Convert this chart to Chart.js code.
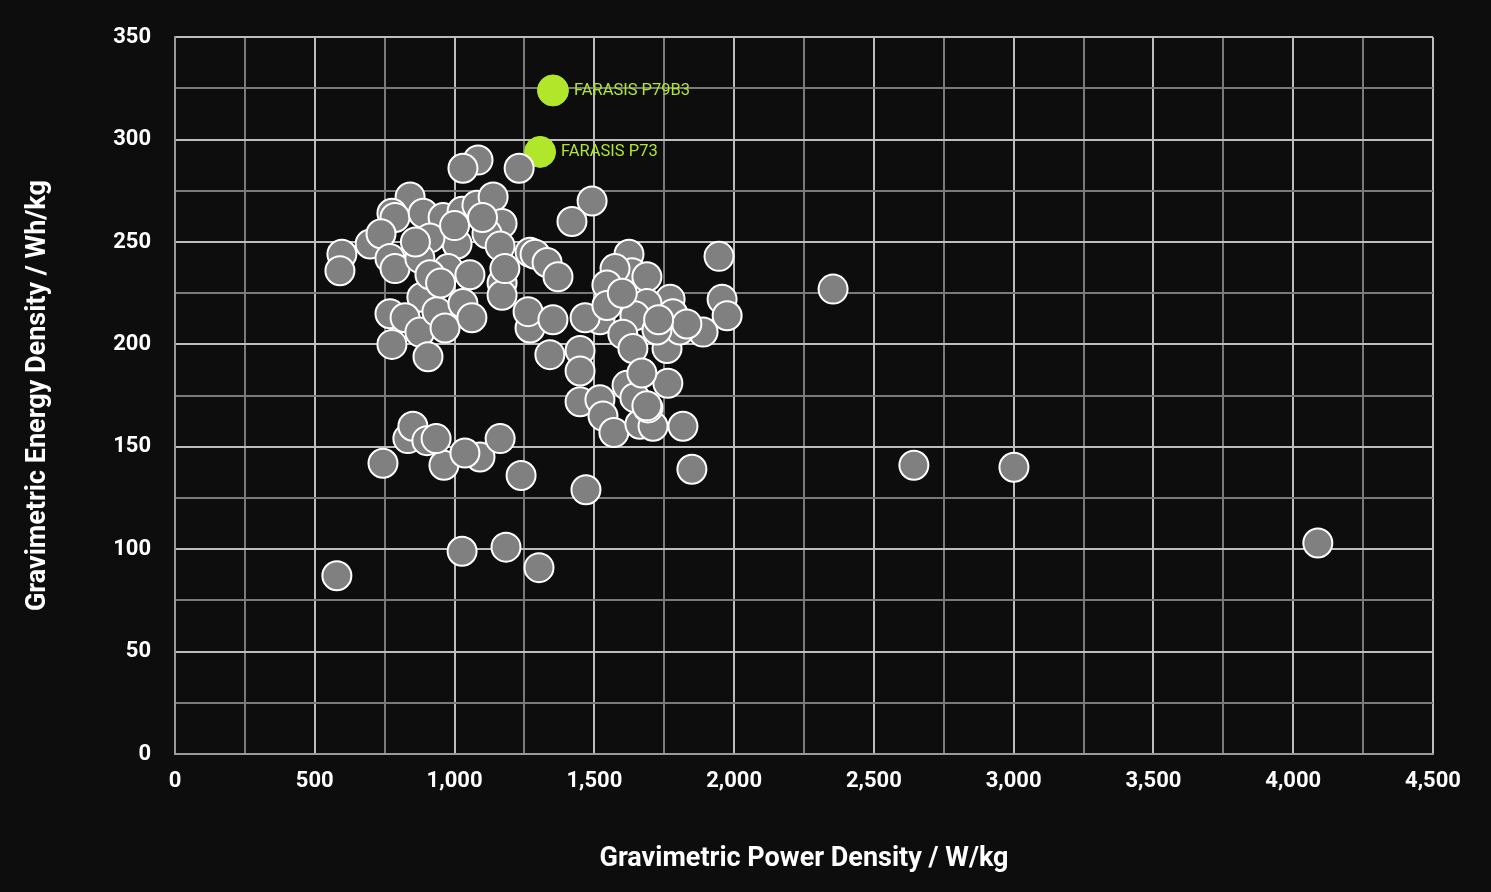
<!DOCTYPE html>
<html>
<head>
<meta charset="utf-8">
<script src="https://cdn.jsdelivr.net/npm/chart.js@4"></script>
<style>
  html, body { margin: 0; padding: 0; background: #0d0d0d; }
  #wrap { width: 1491px; height: 892px; }
</style>
</head>
<body>
<div id="wrap"><canvas id="cells"></canvas></div>
<script>
// power density (W/kg) and energy density (Wh/kg)
const powerDensity = [
  579, 4088, 2643, 3001, 2354, 1027, 1184, 1302, 744, 962,
  1091, 1037, 1238, 1470, 1849, 1817, 833, 851, 901, 934,
  1163, 1449, 1520, 1531, 1570, 1663, 1710, 1763, 1617, 1645,
  1692, 1084, 1030, 1231, 1492, 1420, 841, 776, 787, 888,
  959, 1027, 1080, 1138, 1170, 1116, 1009, 912, 1163, 698,
  737, 597, 590, 769, 787, 876, 977, 1055, 1170, 1170,
  1180, 1270, 1270, 1263, 883, 769, 823, 876, 937, 966,
  1030, 1062, 776, 905, 912, 1288, 1331, 1370, 1624, 1635,
  1574, 1688, 1545, 1946, 1957, 1975, 1889, 1771, 1781, 1688,
  1645, 1520, 1467, 1352, 1602, 1638, 1760, 1806, 1341, 1449,
  1449, 1670, 1724, 1831, 1688, 1545, 1600, 1730, 950, 860,
  1000, 1100
];
const energyDensity = [
  87, 103, 141, 140, 227, 99, 101, 91, 142, 141,
  145, 147, 136, 129, 139, 160, 154, 160, 153, 154,
  154, 172, 173, 165, 157, 161, 160, 181, 180, 174,
  169, 290, 286, 286, 270, 260, 272, 264, 262, 264,
  262, 265, 268, 272, 259, 254, 249, 252, 248, 249,
  254, 244, 236, 242, 237, 242, 237, 234, 230, 224,
  237, 245, 208, 216, 223, 215, 213, 206, 216, 208,
  220, 213, 200, 194, 234, 244, 240, 233, 244, 235,
  237, 233, 229, 243, 222, 214, 206, 222, 215, 220,
  214, 212, 213, 212, 205, 198, 198, 207, 195, 197,
  187, 186, 207, 210, 170, 219, 225, 212, 230, 250,
  258, 262
];

// highlighted cells
const highlightNames = ['FARASIS P79B3', 'FARASIS P73'];
const highlightPower = [1352, 1306];
const highlightEnergy = [324, 294];

const xTicks = [0, 500, 1000, 1500, 2000, 2500, 3000, 3500, 4000, 4500];
const yTicks = [0, 50, 100, 150, 200, 250, 300, 350];

const green = '#b2e62a';
const ctx = document.getElementById('cells');

const greyPoints = powerDensity.map((x, i) => ({ x: x, y: energyDensity[i] }));
const greenPoints = highlightPower.map((x, i) => ({ x: x, y: highlightEnergy[i], name: highlightNames[i] }));

// labels next to highlighted points
const labelPlugin = {
  id: 'labels',
  afterDatasetsDraw(chart) {
    const c = chart.ctx;
    const meta = chart.getDatasetMeta(1);
    c.save();
    c.font = '16.5px Roboto';
    c.fillStyle = green;
    c.textBaseline = 'middle';
    meta.data.forEach((pt, i) => {
      c.fillText(greenPoints[i].name, pt.x + 21, pt.y);
    });
    c.restore();
  }
};

const gridColor = (ctx, step) =>
  (ctx.tick && ctx.tick.value % step === 0) ? '#bdbdbd' : '#7a7a7a';

new Chart(ctx, {
  type: 'scatter',
  data: {
    datasets: [
      {
        data: greyPoints,
        backgroundColor: '#808080',
        borderColor: '#ffffff',
        borderWidth: 2,
        pointRadius: 14.5
      },
      {
        data: greenPoints,
        backgroundColor: green,
        borderColor: green,
        borderWidth: 1,
        pointRadius: 15.5
      }
    ]
  },
  options: {
    responsive: true,
    maintainAspectRatio: false,
    animation: false,
    layout: { padding: { top: 36, right: 58, left: 0, bottom: 0 } },
    plugins: {
      legend: { display: false },
      tooltip: { enabled: false }
    },
    scales: {
      x: {
        type: 'linear',
        min: 0,
        max: 4500,
        afterBuildTicks(scale) {
          const t = [];
          for (let v = 0; v <= 4500; v += 250) t.push({ value: v });
          scale.ticks = t;
        },
        afterFit(scale) { scale.height = 138; },
        ticks: {
          autoSkip: false,
          maxRotation: 0,
          padding: 14,
          color: '#ffffff',
          font: { family: 'Roboto', size: 22, weight: 'bold' },
          callback: (v) => xTicks.includes(v) ? v.toLocaleString('en-US') : ''
        },
        grid: {
          color: (c) => gridColor(c, 500),
          lineWidth: 2,
          drawTicks: false
        },
        border: { color: '#9a9a9a', width: 2 },
        title: {
          display: true,
          text: 'Gravimetric Power Density / W/kg',
          color: '#ffffff',
          font: { family: 'Roboto', size: 27, weight: 'bold' },
          padding: { top: 0, bottom: 17 }
        }
      },
      y: {
        type: 'linear',
        min: 0,
        max: 350,
        afterBuildTicks(scale) {
          const t = [];
          for (let v = 0; v <= 350; v += 25) t.push({ value: v });
          scale.ticks = t;
        },
        afterFit(scale) { scale.width = 175; },
        ticks: {
          autoSkip: false,
          padding: 24,
          color: '#ffffff',
          font: { family: 'Roboto', size: 22, weight: 'bold' },
          callback: (v) => yTicks.includes(v) ? String(v) : ''
        },
        grid: {
          color: (c) => gridColor(c, 50),
          lineWidth: 2,
          drawTicks: false
        },
        border: { color: '#9a9a9a', width: 2 },
        title: {
          display: true,
          text: 'Gravimetric Energy Density / Wh/kg',
          color: '#ffffff',
          font: { family: 'Roboto', size: 27, weight: 'bold' },
          padding: { top: 22, bottom: 0 }
        }
      }
    }
  },
  plugins: [labelPlugin]
});
</script>
</body>
</html>
